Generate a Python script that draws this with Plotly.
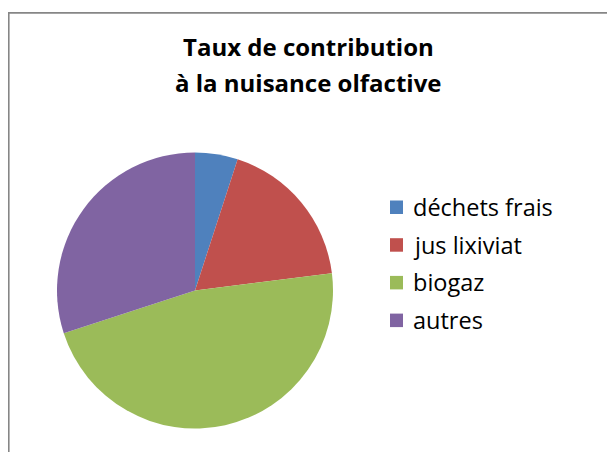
import plotly.graph_objects as go

# chart data
labels = ['déchets frais', 'jus lixiviat', 'biogaz', 'autres']
values = [5, 18, 47, 30]
colors = ['#4F81BD', '#C0504D', '#9BBB59', '#8064A2']
title_lines = ['Taux de contribution', 'à la nuisance olfactive']

# the page body has an 8px margin, so the figure is drawn 8px smaller
OFF = 8
W, H = 615 - OFF, 452 - OFF


def px(x):
    return (x - OFF) / W


def py(y):
    return 1 - (y - OFF) / H


fig = go.Figure()

fig.add_trace(go.Pie(
    labels=labels,
    values=values,
    sort=False,
    direction='clockwise',
    rotation=0,
    textinfo='none',
    hoverinfo='label+percent',
    marker=dict(colors=colors, line=dict(width=0)),
    domain=dict(x=[px(57), px(333)], y=[py(429), py(152)]),
    showlegend=False,
))

# chart frame (Excel style): only the left and top edges are visible
shapes = [
    dict(type='line', xref='paper', yref='paper',
         x0=px(8.8), x1=px(8.8), y0=0, y1=py(13),
         line=dict(color='#868686', width=1.6)),
    dict(type='line', xref='paper', yref='paper',
         x0=px(8), x1=px(610), y0=py(13), y1=py(13),
         line=dict(color='#868686', width=1.6)),
]

annotations = [
    # top edge of the frame drawn as a thin filled annotation box
    dict(x=px(8), y=py(12), xref='paper', yref='paper', text='', showarrow=False,
         xanchor='left', yanchor='top', width=620, height=1, borderpad=0,
         bgcolor='#868686', borderwidth=0),
]
for i, line in enumerate(title_lines):
    annotations.append(dict(x=px(308), y=py(47 + i * 36), xref='paper', yref='paper',
                            text='<b>' + line + '</b>', showarrow=False,
                            xanchor='center', yanchor='middle',
                            font=dict(family='Open Sans', size=24, color='#000000')))

# legend drawn by hand to match the Excel spacing
for i, (lab, col) in enumerate(zip(labels, colors)):
    yc = 207 + i * 37.7
    shapes.append(dict(type='rect', xref='paper', yref='paper',
                       x0=px(390), x1=px(403), y0=py(yc + 7), y1=py(yc - 6.5),
                       fillcolor=col, line=dict(width=0)))
    annotations.append(dict(x=px(411), y=py(yc), xref='paper', yref='paper',
                            text=lab, showarrow=False, xanchor='left', yanchor='middle',
                            font=dict(family='Open Sans', size=23.5, color='#000000')))

fig.update_layout(
    width=W, height=H,
    margin=dict(l=0, r=0, t=0, b=0),
    paper_bgcolor='white',
    plot_bgcolor='white',
    shapes=shapes,
    annotations=annotations,
)

fig.write_html('out.html', config={'displayModeBar': False})
